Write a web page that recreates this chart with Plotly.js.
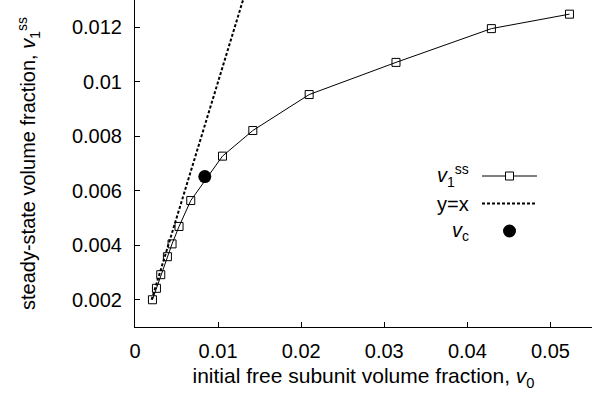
<!DOCTYPE html>
<html>
<head>
<meta charset="utf-8">
<script src="https://cdn.plot.ly/plotly-3.0.1.min.js"></script>
<style>html,body{margin:0;padding:0;background:#fff;}#chart{width:600px;height:394px;}</style>
</head>
<body>
<div id="chart"></div>
<script>
// initial free subunit volume fraction v0
const v0 = [0.0021, 0.00258, 0.0031, 0.0039, 0.00446, 0.0053, 0.00671, 0.01053, 0.01418, 0.02096, 0.03141, 0.04289, 0.05229];
// steady-state volume fraction v1ss
const v1ss = [0.0020, 0.00242, 0.00292, 0.00358, 0.00405, 0.00469, 0.00564, 0.00727, 0.00821, 0.00953, 0.01071, 0.01195, 0.01248];
// y = x reference line
const lineX = [0.002, 0.013];
const lineY = [0.002, 0.013];
// critical point vc
const vcX = [0.0084];
const vcY = [0.00652];
const legendLabels = ['<i>v</i><sub>1</sub><sup>ss</sup>', 'y=x', '<i>v</i><sub>c</sub>'];

const FONT = 'Liberation Sans, Arial, sans-serif';

const traces = [
  {x: v0, y: v1ss, type: 'scatter', mode: 'lines+markers',
   line: {color: '#000', width: 1},
   marker: {symbol: 'square-open', size: 8, color: '#000', line: {width: 1, color: '#000'}},
   showlegend: false, cliponaxis: false},
  {x: lineX, y: lineY, type: 'scatter', mode: 'lines',
   line: {color: '#000', width: 2, dash: '3px,2px'}, showlegend: false},
  {x: vcX, y: vcY, type: 'scatter', mode: 'markers',
   marker: {symbol: 'circle', size: 13, color: '#000'}, showlegend: false}
];

// legend geometry (paper coords)
const L = 135, R = 592, T = 0, B = 327;
const px = v => (v - L) / (R - L);
const py = v => 1 - (v - T) / (B - T);
const rows = [176, 203.5, 231];
const lx0 = px(482), lx1 = px(537), lxc = px(509.5), tx = px(471);

const shapes = [
  {type: 'line', xref: 'paper', yref: 'paper', x0: lx0, x1: lx1, y0: py(rows[0]), y1: py(rows[0]), line: {color: '#000', width: 1}},
  {type: 'rect', xref: 'paper', yref: 'paper', xsizemode: 'pixel', ysizemode: 'pixel', xanchor: lxc, yanchor: py(rows[0]),
   x0: -4, x1: 4, y0: -4, y1: 4, line: {color: '#000', width: 1}, fillcolor: '#fff'},
  {type: 'line', xref: 'paper', yref: 'paper', x0: lx0, x1: lx1, y0: py(rows[1]), y1: py(rows[1]), line: {color: '#000', width: 2, dash: '3px,2px'}},
  {type: 'circle', xref: 'paper', yref: 'paper', xsizemode: 'pixel', ysizemode: 'pixel', xanchor: lxc, yanchor: py(rows[2]),
   x0: -6.5, x1: 6.5, y0: -6.5, y1: 6.5, line: {color: '#000', width: 0}, fillcolor: '#000'}
];

const annotations = legendLabels.map((t, i) => ({
  xref: 'paper', yref: 'paper', x: tx, y: py(rows[i]), xanchor: 'right', yanchor: 'middle',
  text: t, showarrow: false, font: {family: FONT, size: 20, color: '#000'}
}));

const layout = {
  width: 600, height: 394,
  margin: {l: L, r: 600 - R, t: T, b: 394 - B, pad: 0},
  paper_bgcolor: '#fff', plot_bgcolor: '#fff',
  font: {family: FONT, size: 20, color: '#000'},
  showlegend: false,
  xaxis: {
    range: [0, 0.055], tick0: 0, dtick: 0.01, ticks: 'inside', ticklen: 5, tickwidth: 1, tickcolor: '#000',
    showline: true, linecolor: '#000', linewidth: 1, showgrid: false, zeroline: false, mirror: false,
    exponentformat: 'none', automargin: false, ticklabelstandoff: 6,
    tickfont: {family: FONT, size: 20, color: '#000'},
    title: {text: 'initial free subunit volume fraction, <i>v</i><sub>0</sub>', font: {family: FONT, size: 21, color: '#000'}, standoff: 7}
  },
  yaxis: {
    range: [0.001, 0.013], tick0: 0, dtick: 0.002, ticks: 'inside', ticklen: 5, tickwidth: 1, tickcolor: '#000',
    showline: true, linecolor: '#000', linewidth: 1, showgrid: false, zeroline: false, mirror: false,
    exponentformat: 'none', automargin: false, ticklabelstandoff: 8,
    tickfont: {family: FONT, size: 20, color: '#000'},
    title: {text: 'steady-state volume fraction, <i>v</i><sub>1</sub><sup>ss</sup>', font: {family: FONT, size: 20, color: '#000'}, standoff: 30}
  },
  shapes: shapes,
  annotations: annotations
};

Plotly.newPlot('chart', traces, layout, {staticPlot: true, displayModeBar: false});
</script>
</body>
</html>
